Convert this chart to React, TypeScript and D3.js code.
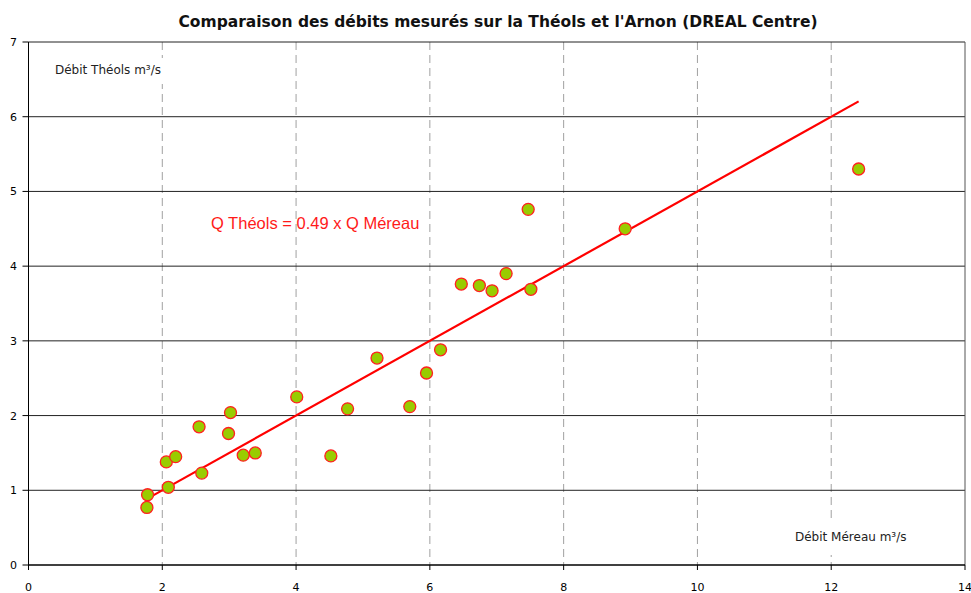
import React from "react";
import * as d3 from "d3";

const mereau = [1.77, 1.78, 2.06, 2.09, 2.2, 2.55, 2.59, 2.99, 3.02, 3.21, 3.39, 4.01, 4.52, 4.77, 5.21, 5.7, 5.95, 6.16, 6.47, 6.74, 6.93, 7.14, 7.47, 7.51, 8.92, 12.41];
const theols = [0.77, 0.94, 1.38, 1.04, 1.45, 1.85, 1.23, 1.76, 2.04, 1.47, 1.5, 2.25, 1.46, 2.09, 2.77, 2.12, 2.57, 2.88, 3.76, 3.74, 3.67, 3.9, 4.76, 3.69, 4.5, 5.3];
const xTicks = [0, 2, 4, 6, 8, 10, 12, 14];
const yTicks = [0, 1, 2, 3, 4, 5, 6, 7];
const fitSlope = 0.5;

const title = "Comparaison des débits mesurés sur la Théols et l'Arnon (DREAL Centre)";
const yLabel = "Débit Théols m³/s";
const xLabel = "Débit Méreau m³/s";
const eqLabel = "Q Théols = 0.49 x Q Méreau";

export default function App() {
  const W = 971, H = 593;
  const x = d3.scaleLinear().domain([0, 14]).range([28.5, 965]);
  const y = d3.scaleLinear().domain([0, 7]).range([565, 42]);
  const x0 = d3.min(mereau) as number;
  const x1 = d3.max(mereau) as number;
  const line = d3.line<number>().x((d) => x(d)).y((d) => y(d * fitSlope));
  const font = "DejaVu Sans, sans-serif";
  return (
    <svg width={W} height={H} style={{ position: "absolute", left: 0, top: 0, background: "#fff" }}>
      <rect x={0} y={0} width={W} height={H} fill="#fff" />
      {xTicks.slice(1, -1).map((t) => (
        <line key={"vx" + t} x1={x(t)} x2={x(t)} y1={y(7)} y2={y(0)} stroke="#a0a0a0" strokeWidth={1} strokeDasharray="8,5" />
      ))}
      {yTicks.slice(1).map((t) => (
        <line key={"hy" + t} x1={x(0)} x2={x(14)} y1={y(t)} y2={y(t)} stroke="#222" strokeWidth={1} />
      ))}
      <rect x={52} y={58} width={116} height={26} fill="#fff" />
      <text x={55} y={74} fontFamily={font} fontSize={12} fill="#222">{yLabel}</text>
      <rect x={792} y={522} width={120} height={33} fill="#fff" />
      <text x={795} y={541} fontFamily={font} fontSize={12} fill="#222">{xLabel}</text>
      <line x1={x(0)} x2={x(0)} y1={y(7)} y2={y(0)} stroke="#000" strokeWidth={1} />
      <line x1={x(14)} x2={x(14)} y1={y(7)} y2={y(0)} stroke="#555" strokeWidth={1} />
      <line x1={x(0)} x2={x(14)} y1={y(0)} y2={y(0)} stroke="#000" strokeWidth={1.5} />
      {yTicks.map((t) => (
        <g key={"yt" + t}>
          <line x1={x(0) - 6} x2={x(0)} y1={y(t)} y2={y(t)} stroke="#000" />
          <text x={17} y={y(t) + 4} textAnchor="end" fontFamily={font} fontSize={11} fill="#000">{t}</text>
        </g>
      ))}
      {xTicks.map((t) => (
        <g key={"xt" + t}>
          <line x1={x(t)} x2={x(t)} y1={y(0)} y2={y(0) + 5} stroke="#000" />
          <text x={x(t)} y={591} textAnchor="middle" fontFamily={font} fontSize={11} fill="#000">{t}</text>
        </g>
      ))}
      <path d={line([x0, x1]) || ""} stroke="#ff0000" strokeWidth={2.2} fill="none" />
      {mereau.map((m, i) => (
        <circle key={"p" + i} cx={x(m)} cy={y(theols[i])} r={6} fill="#99cc00" stroke="#ff2020" strokeWidth={1.3} />
      ))}
      <text x={211} y={229} fontFamily="Liberation Sans, Arial, sans-serif" fontSize={16.5} fill="#ff1a1a">{eqLabel}</text>
      <text x={498} y={27} textAnchor="middle" fontFamily={font} fontWeight="bold" fontSize={15.5} fill="#111">{title}</text>
    </svg>
  );
}
